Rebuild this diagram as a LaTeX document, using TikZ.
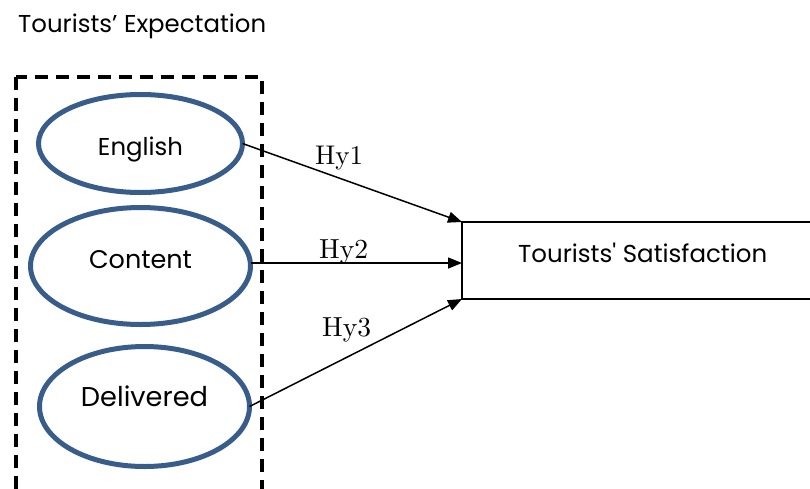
\documentclass[tikz,border=0pt]{standalone}
\usepackage{fontspec}
\usepackage{graphicx}
\newfontfamily\sansf{Poppins}[Ligatures=TeXOff]
\usetikzlibrary{arrows.meta,shapes.geometric}
\definecolor{ellblue}{RGB}{56,93,138}
\newcommand\fitw[2]{\resizebox{#1pt}{!}{#2}}
\begin{document}
\begin{tikzpicture}[x=1pt,y=-1pt,
  oval/.style={ellipse,draw=ellblue,line width=5pt,outer sep=0pt,inner sep=0pt},
  sanslbl/.style={inner sep=0pt,font=\sansf\fontsize{20}{24}\selectfont},
  hylbl/.style={anchor=base west,inner sep=0pt,font=\fontsize{10}{12}\selectfont},
  arr/.style={line width=1.5pt,-{Triangle[length=14pt,width=11pt]}},
  groupbox/.style={draw,line width=3.6pt,dash pattern=on 13pt off 8pt},
  satbox/.style={draw,rectangle,line width=2pt,minimum width=362pt,minimum height=77pt,outer sep=0pt,inner sep=0pt}]
\clip (0,0) rectangle (810,488);
\fill[white] (0,0) rectangle (810,488);
\node[sanslbl,anchor=base west] (title) at (18,32) {\fitw{248}{Tourists’ Expectation}};
\draw[groupbox] (16,77) rectangle (262,540);
\node[oval,minimum width=204pt,minimum height=98pt] (e1) at (140.5,143.5) {};
\node[oval,minimum width=220pt,minimum height=117pt] (e2) at (140.5,266) {};
\node[oval,minimum width=210pt,minimum height=120pt] (e3) at (144.5,406.5) {};
\node[sanslbl,anchor=base] (t1) at (140.5,155) {\fitw{85}{English}};
\node[sanslbl,anchor=base] (t2) at (140.5,268) {\fitw{103}{Content}};
\node[sanslbl,anchor=base] (t3) at (144.5,406) {\fitw{127}{Delivered}};
\node[satbox] (sat) at (643,260.5) {};
\node[sanslbl,anchor=base west] (st) at (518,262) {\fitw{249}{Tourists' Satisfaction}};
\draw[arr] (e1.east) -- (sat.north west);
\draw[arr] ([yshift=3pt]e2.east) -- ([yshift=3pt]e2.east -| sat.west);
\draw[arr] (e3.east) -- (sat.south west);
\node[hylbl] (h1) at (315,164) {\fitw{48}{Hy1}};
\node[hylbl] (h2) at (319,258) {\fitw{49}{Hy2}};
\node[hylbl] (h3) at (322,336) {\fitw{49}{Hy3}};
\end{tikzpicture}
\end{document}
